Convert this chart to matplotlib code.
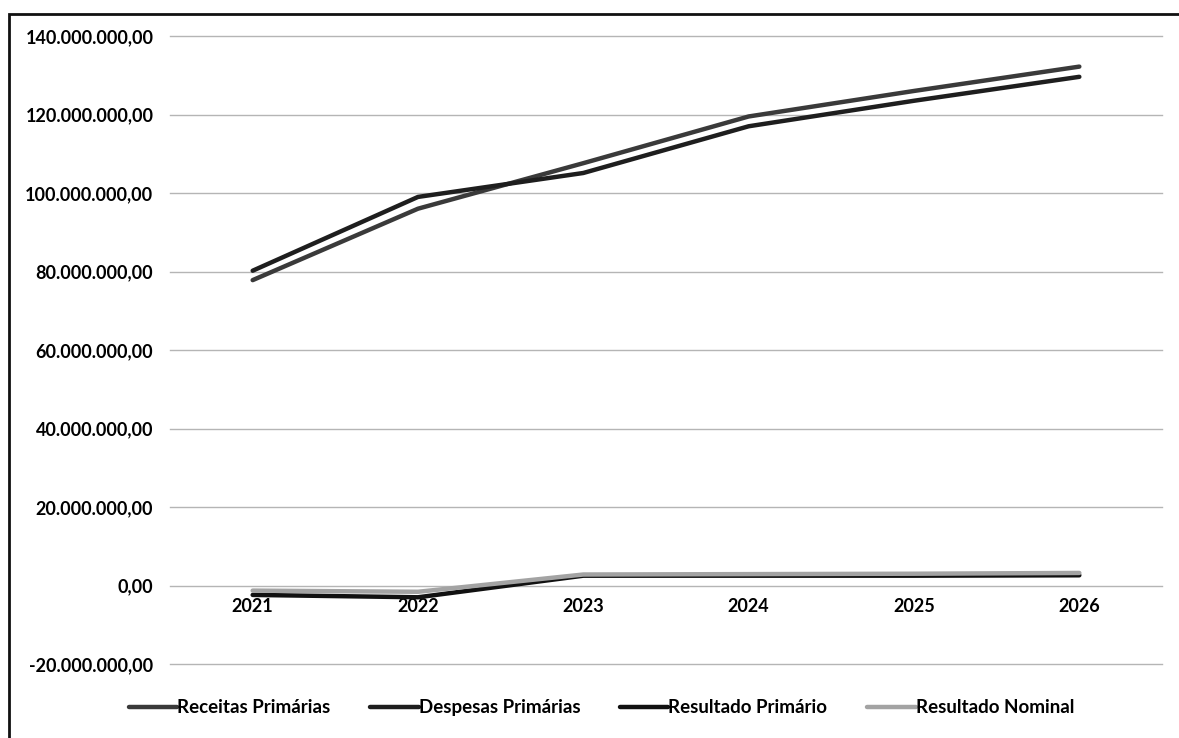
import matplotlib
matplotlib.use("Agg")
import matplotlib.pyplot as plt
import matplotlib.ticker as mticker
from matplotlib.patches import Rectangle

# =========================
# DATA
# =========================
anos = ["2021", "2022", "2023", "2024", "2025", "2026"]

receitas_primarias = [77.8e6, 96.0e6, 107.6e6, 119.5e6, 126.0e6, 132.2e6]
despesas_primarias = [80.2e6, 99.0e6, 105.1e6, 117.0e6, 123.5e6, 129.6e6]
resultado_primario = [-2.4e6, -3.0e6, 2.5e6, 2.5e6, 2.5e6, 2.6e6]
resultado_nominal = [-1.3e6, -1.6e6, 2.8e6, 2.9e6, 3.0e6, 3.2e6]

y_ticks = [-20e6, 0, 20e6, 40e6, 60e6, 80e6, 100e6, 120e6, 140e6]

# =========================
# STYLE
# =========================
plt.rcParams['font.family'] = ['Lato', 'DejaVu Sans']
plt.rcParams['font.weight'] = 'bold'


def fmt_br(v, pos=None):
    s = f"{abs(v):,.2f}"
    s = s.replace(",", "X").replace(".", ",").replace("X", ".")
    return ("-" if v < 0 else "") + s


# =========================
# FIGURE
# =========================
fig = plt.figure(figsize=(11.79, 7.38), dpi=100)
ax = fig.add_axes([170 / 1179, 1 - 664 / 738, 992 / 1179, 628 / 738])

x = list(range(len(anos)))

ax.plot(x, receitas_primarias, color="#3a3a3a", linewidth=3.2,
        solid_capstyle="round", label="Receitas Primárias", zorder=3)
ax.plot(x, despesas_primarias, color="#1e1e1e", linewidth=3.2,
        solid_capstyle="round", label="Despesas Primárias", zorder=3)
ax.plot(x, resultado_primario, color="#111111", linewidth=3.2,
        solid_capstyle="round", label="Resultado Primário", zorder=3)
ax.plot(x, resultado_nominal, color="#a3a3a3", linewidth=3.2,
        solid_capstyle="round", label="Resultado Nominal", zorder=4)

ax.set_xlim(-0.5, len(anos) - 0.5)
ax.set_ylim(-20e6, 140e6)
ax.set_yticks(y_ticks)
ax.yaxis.set_major_formatter(mticker.FuncFormatter(fmt_br))
ax.grid(axis="y", color="#b5b5b5", linewidth=1.0)
for gl in ax.get_ygridlines():
    gl.set_clip_on(False)
ax.set_axisbelow(True)

ax.set_xticks(x)
ax.set_xticklabels(anos)
ax.spines['bottom'].set_position(('data', 0))
for side in ["top", "right", "left", "bottom"]:
    ax.spines[side].set_visible(False)

ax.tick_params(axis="x", length=0, pad=9, labelsize=13)
ax.tick_params(axis="y", length=0, pad=12, labelsize=13)

# =========================
# LEGEND
# =========================
fig.legend(loc="center", bbox_to_anchor=(0.51, 0.041), ncol=4,
           frameon=False, fontsize=13.5, handlelength=2.6,
           handletextpad=0.0, columnspacing=2.1)

# =========================
# FRAME
# =========================
fig.patches.append(Rectangle((9 / 1179, -0.05), 1.2, 1 - 14 / 738 + 0.05,
                             transform=fig.transFigure, fill=False,
                             edgecolor="#111111", linewidth=2.0))

fig.savefig("out.png", dpi=100)
